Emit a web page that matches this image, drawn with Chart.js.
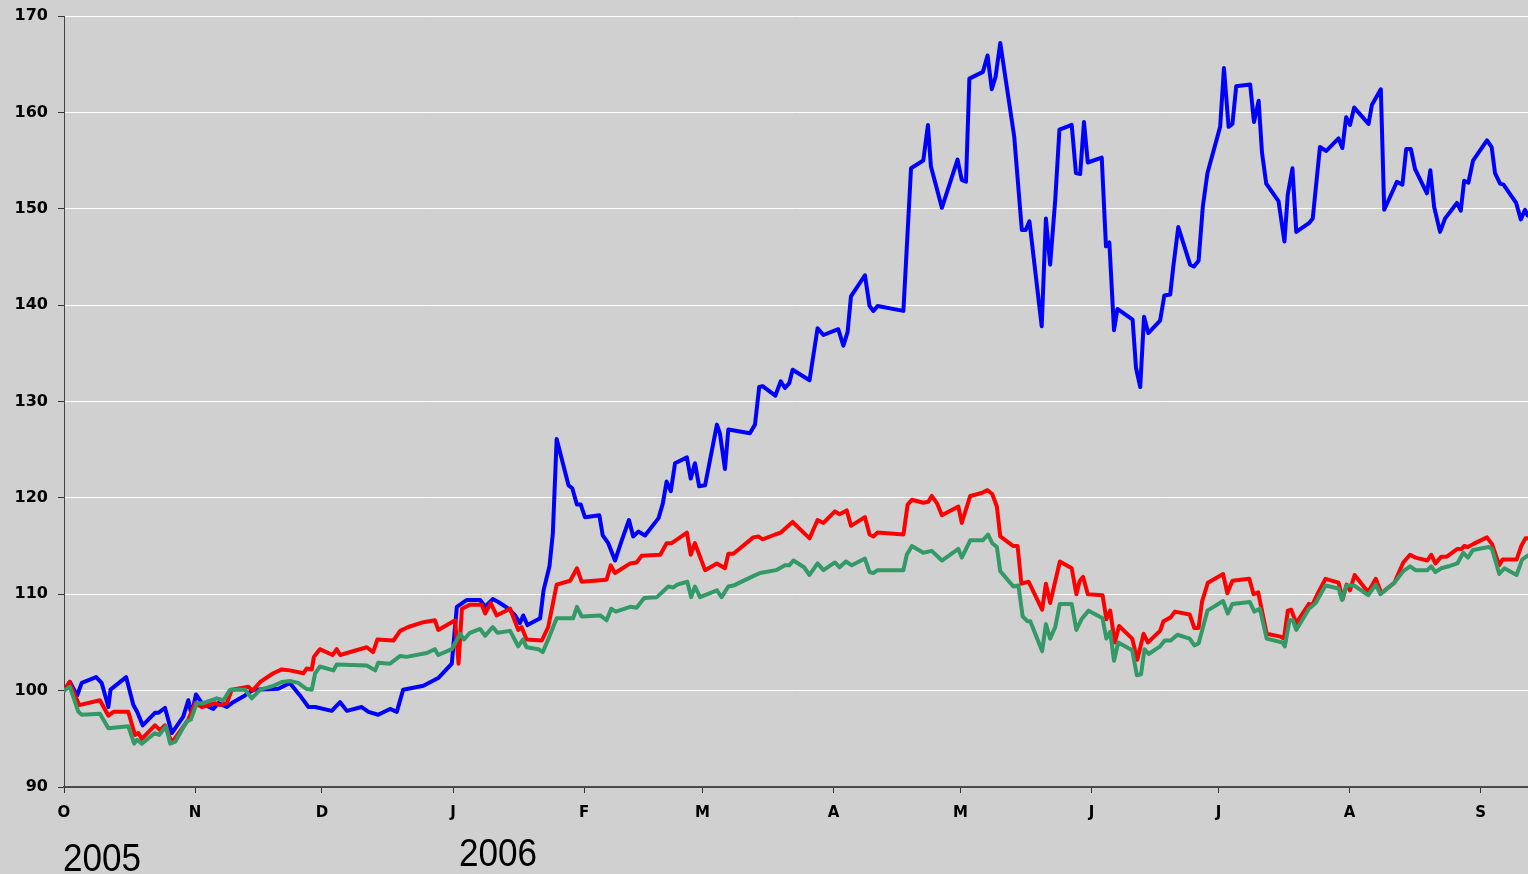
<!DOCTYPE html>
<html><head><meta charset="utf-8">
<script src="https://cdn.jsdelivr.net/npm/chart.js@4/dist/chart.umd.min.js"></script>
<style>html,body{margin:0;padding:0;background:#d0d0d0;overflow:hidden}#wrap{position:relative;width:1528px;height:874px}</style>
</head><body><div id="wrap"><canvas id="c" width="1528" height="874"></canvas></div>
<script>
// Days counted from 1 Oct 2005
const monthDays=[0,31,61,92,123,151,182,212,243,273,304,335];
const monthLabels=['O','N','D','J','F','M','A','M','J','J','A','S'];
const yearLabels=['2005','2006'];
const yearDays=[0,92];
const yTicks=[90,100,110,120,130,140,150,160,170];

const blueDays=[0,1.4,3.1,4.2,7.6,8.9,10.5,11.0,14.7,16.4,
17.3,18.6,21.5,22.3,23.9,25.5,28.2,29.4,30.2,31.2,
32.6,35.3,36.5,38.5,40.0,42.8,44.8,50.7,53.4,55.8,
57.8,59.4,63.3,65.3,66.9,70.4,72.0,74.3,77.1,78.7,
80.2,85.0,88.5,91.7,92.9,95.2,98.4,99.6,101.4,102.7,
105.1,106.7,107.8,108.6,109.6,112.6,113.4,114.8,115.6,116.5,
119.3,120.2,121.3,122.2,123.2,126.6,127.4,128.7,130.3,131.9,
133.6,134.6,135.8,137.4,140.6,141.6,142.5,143.5,144.5,147.3,
148.2,149.2,150.2,151.6,154.4,155.1,156.3,157.1,162.2,163.4,
164.4,165.2,168.2,169.5,170.5,171.5,172.3,176.3,178.2,179.6,
183.1,184.3,185.3,186.1,189.4,190.5,191.4,192.4,198.5,200.3,
203.2,204.3,205.0,207.6,211.3,212.3,213.3,214.1,217.3,218.4,
219.4,220.3,221.4,224.7,226.5,227.4,228.3,231.2,232.2,233.2,
234.4,235.4,238.3,239.3,240.3,241.2,242.1,245.4,246.4,247.2,
248.3,249.1,252.7,253.5,254.5,255.4,256.4,259.2,260.2,261.6,
262.3,263.5,266.3,267.2,268.3,269.3,270.4,273.4,274.3,275.4,
276.3,277.2,280.5,281.4,282.5,283.3,284.3,287.2,288.6,289.4,
290.5,291.4,294.4,295.3,297.0,298.5,301.4,302.3,303.2,304.1,
305.1,308.5,309.3,311.4,312.2,315.2,316.5,317.4,318.5,319.5,
322.3,323.1,324.0,325.4,326.6,329.4,330.3,331.1,332.1,333.2,
336.5,337.6,338.4,339.6,340.4,343.4,344.5,345.5,346.1];
const blueVals=[100,100.9,99.5,100.8,101.4,100.8,98.3,100.1,101.4,98.5,
97.8,96.4,97.7,97.7,98.2,95.6,97.3,99.0,97.5,99.6,
98.7,98.1,98.7,98.3,98.8,99.5,100.1,100.2,100.8,99.5,
98.3,98.3,97.9,98.8,97.9,98.3,97.8,97.5,98.1,97.8,
100.1,100.5,101.3,102.8,108.7,109.4,109.4,108.7,109.5,109.2,
108.5,107.8,107.0,107.8,106.8,107.5,110.4,112.9,116.3,126.1,
121.3,121.0,119.3,119.3,118.0,118.2,116.1,115.3,113.5,115.6,
117.7,116.0,116.5,116.1,117.9,119.4,121.7,120.7,123.6,124.2,
122.0,123.6,121.2,121.3,127.6,126.7,123.0,127.1,126.7,127.6,
131.5,131.6,130.6,132.1,131.4,131.9,133.3,132.2,137.6,136.9,
137.5,135.8,137.2,140.9,143.1,139.9,139.4,139.9,139.4,154.2,
155.0,158.7,154.4,150.1,155.1,153.0,152.8,163.5,164.2,165.9,
162.4,163.7,167.2,157.5,147.8,147.8,148.7,137.8,149.0,144.2,
150.9,158.2,158.7,153.7,153.6,159.0,154.8,155.3,146.1,146.5,
137.4,139.6,138.5,133.5,131.5,138.8,137.1,138.4,141.0,141.1,
143.9,148.1,144.2,144.0,144.6,150.2,153.7,158.5,164.6,158.5,
158.8,162.7,162.9,159.0,161.2,155.8,152.6,150.8,146.6,151.5,
154.2,147.6,148.5,149.0,156.4,156.0,157.3,156.3,159.5,158.7,
160.5,158.8,160.8,162.4,149.9,152.8,152.5,156.2,156.2,154.1,
151.6,154.0,150.2,147.6,149.0,150.6,149.8,152.9,152.7,155.0,
157.1,156.4,153.7,152.6,152.5,150.6,148.9,149.9,149.3];

const redDays=[0,1.3,2.2,3.6,8.5,10.5,11.7,15.2,16.8,17.6,
18.4,21.5,22.7,23.9,25.5,29.4,31.0,32.6,35.7,36.9,
38.5,39.7,43.6,44.6,46.4,49.5,51.5,53.4,56.6,57.4,
58.6,59.1,60.5,63.5,64.5,65.3,66.9,71.6,73.1,74.1,
77.9,79.5,81.4,85.0,87.7,88.5,92.5,93.3,94.1,95.9,
98.8,99.6,100.9,102.3,105.5,107.4,108.2,109.4,113.0,114.5,
116.5,119.7,121.3,122.4,128.3,129.3,130.3,133.9,135.4,136.6,
141.0,142.5,143.7,147.3,148.2,149.2,151.6,154.4,156.3,157.1,
158.3,163.0,164.2,165.2,168.2,169.5,172.3,176.3,178.2,179.6,
182.3,183.4,185.1,186.1,189.4,190.5,191.4,192.4,198.5,199.5,
200.5,203.2,204.4,205.2,206.5,207.6,211.5,212.3,214.3,217.0,
218.4,219.5,220.6,221.4,224.5,225.5,226.4,228.1,231.3,232.2,
233.2,235.5,238.3,239.4,240.2,241.0,242.1,245.6,246.5,247.4,
248.5,249.5,252.6,253.8,255.3,256.3,259.2,260.0,261.7,262.7,
266.2,267.3,268.3,269.1,270.5,274.1,275.1,276.3,280.3,281.3,
282.4,284.4,287.7,288.5,289.4,290.2,291.4,294.4,295.2,296.4,
298.3,301.4,302.4,303.3,304.1,305.2,308.4,310.2,311.5,314.6,
316.7,318.3,319.6,322.4,323.3,324.3,325.7,327.0,329.5,330.5,
331.1,332.0,333.2,336.5,337.7,339.4,340.2,343.5,344.6,345.6,
346.1];
const redVals=[100,100.9,99.9,98.5,99.0,97.4,97.8,97.8,95.4,95.6,
95.0,96.4,95.9,96.4,94.6,97.0,98.7,98.3,98.7,98.5,
98.7,100.1,100.4,100.0,100.9,101.8,102.2,102.1,101.8,102.3,
102.2,103.5,104.3,103.7,104.3,103.7,103.9,104.5,104.0,105.3,
105.2,106.2,106.6,107.1,107.3,106.3,107.3,102.8,108.5,108.9,
108.9,108.0,109.1,107.8,108.5,106.3,106.6,105.3,105.2,106.6,
111.0,111.4,112.7,111.3,111.5,113.0,112.2,113.2,113.3,114.0,
114.1,115.3,115.3,116.4,114.1,115.3,112.5,113.2,112.7,114.2,
114.2,115.9,116.0,115.7,116.2,116.4,117.5,115.8,117.7,117.4,
118.6,118.3,118.7,117.1,118.0,116.2,116.0,116.4,116.2,119.3,
119.8,119.5,119.6,120.2,119.4,118.2,119.1,117.4,120.2,120.5,
120.8,120.4,119.1,116.0,115.0,115.0,111.1,111.3,108.4,111.1,
109.1,113.4,112.7,110.0,111.4,111.8,110.0,109.9,107.4,108.3,
105.0,106.7,105.4,103.2,105.9,105.0,106.2,107.2,107.6,108.2,
107.9,106.5,106.5,109.2,111.2,112.1,110.1,111.4,111.6,110.0,
110.2,105.9,105.6,105.4,108.3,108.4,107.0,109.0,108.9,110.0,
111.6,111.2,109.5,111.0,110.4,112.0,110.2,111.6,110.1,111.2,
113.3,114.1,113.8,113.5,114.1,113.2,113.9,113.9,114.7,114.7,
115.0,114.9,115.2,115.9,115.2,113.0,113.6,113.6,115.0,115.8,
115.8];

const greenDays=[0,1.4,3.4,4.2,8.5,10.5,15.2,16.6,17.3,18.4,
21.5,22.5,24.1,25.1,26.3,29.0,30.0,31.4,32.9,36.1,
37.7,39.3,42.8,44.4,46.4,49.5,51.5,53.4,55.4,57.2,
58.6,59.4,60.5,63.7,64.5,71.6,73.6,74.3,77.1,79.5,
81.0,85.8,87.7,88.5,91.7,93.7,94.6,96.0,98.4,99.6,
101.4,102.5,105.5,107.4,108.5,109.4,112.2,113.2,114.5,116.5,
120.4,121.3,122.4,126.8,128.3,129.4,130.5,133.9,135.4,137.2,
140.2,142.9,144.1,145.0,147.4,148.3,149.2,150.4,154.4,155.5,
157.1,158.3,162.6,164.6,168.4,170.5,171.5,172.5,175.0,176.3,
178.2,179.6,182.3,183.4,184.9,186.3,189.4,190.5,191.4,192.4,
198.5,199.3,200.5,203.2,205.2,207.6,211.5,212.3,214.3,217.3,
218.5,219.5,220.6,221.4,224.5,225.7,226.7,227.8,228.5,231.3,
232.2,233.2,234.4,235.5,238.3,239.4,240.6,242.3,245.6,246.5,
247.4,248.3,249.3,252.6,253.7,254.7,255.5,256.5,259.2,260.3,
261.7,263.3,266.2,267.3,268.3,270.4,274.1,275.2,276.3,280.4,
281.5,282.8,284.4,288.1,288.7,289.8,290.6,291.4,294.4,296.0,
298.3,301.4,302.2,303.3,305.1,308.4,310.2,311.3,314.6,316.7,
318.3,319.6,322.4,323.3,324.3,325.7,327.4,329.5,330.9,332.0,
333.2,336.9,337.7,339.4,340.6,343.5,344.8,346.1];
const greenVals=[100,100.4,97.8,97.5,97.6,96.1,96.3,94.5,94.9,94.5,
95.6,95.4,96.3,94.5,94.7,96.8,97.0,98.7,98.7,99.2,
99.0,100.1,100.1,99.2,100.1,100.5,100.9,101.0,100.8,100.2,
100.1,101.8,102.5,102.1,102.7,102.6,102.1,102.9,102.8,103.6,
103.5,103.9,104.3,103.7,104.3,105.9,105.3,106.0,106.4,105.7,
106.6,106.0,106.2,104.6,105.3,104.5,104.3,104.0,105.3,107.5,
107.5,108.7,107.7,107.8,107.3,108.5,108.2,108.7,108.6,109.6,
109.7,110.8,110.7,111.0,111.3,109.7,110.8,109.7,110.4,109.7,
110.8,110.9,111.8,112.2,112.5,113.0,113.0,113.5,112.8,112.0,
113.2,112.5,113.3,112.8,113.4,113.0,113.7,112.3,112.2,112.5,
112.5,114.1,115.0,114.3,114.5,113.5,114.7,113.8,115.6,115.6,
116.2,115.3,114.9,112.4,110.8,110.9,107.7,107.2,107.2,104.1,
106.9,105.4,106.6,109.0,109.0,106.3,107.4,108.3,107.5,105.4,
106.1,103.1,105.0,104.2,101.6,101.7,104.3,103.8,104.6,105.2,
105.2,105.8,105.4,104.7,104.9,108.3,109.3,108.0,109.0,109.2,
108.2,108.5,105.4,105.0,104.6,107.3,107.3,106.3,108.5,109.1,
110.9,110.6,109.4,110.9,110.9,109.9,111.0,110.0,111.2,112.4,
112.9,112.5,112.5,112.9,112.3,112.7,112.9,113.2,114.3,113.8,
114.6,114.9,114.7,112.1,112.7,112.0,113.6,114.0];

function pts(d,v){const n=Math.min(d.length,v.length);const o=[];for(let i=0;i<n;i++)o.push({x:d[i],y:v[i]});return o;}

const bgPlugin={id:'bg',beforeDraw(c){const x=c.ctx;x.save();x.fillStyle='#d0d0d0';x.fillRect(0,0,c.width,c.height);x.restore();}};
const yearPlugin={id:'years',afterDraw(c){
  const ctx=c.ctx,xs=c.scales.x;
  const offs=[[-1,871],[6,866]];
  ctx.save();ctx.fillStyle='#000';ctx.font='39px "Liberation Sans", Arial, sans-serif';ctx.textBaseline='alphabetic';ctx.textAlign='left';
  yearLabels.forEach((t,i)=>{const px=xs.getPixelForValue(yearDays[i])+offs[i][0];ctx.save();ctx.translate(px,offs[i][1]);ctx.scale(0.9,1);ctx.fillText(t,0,0);ctx.restore();});
  ctx.restore();}};

const lineBase={fill:false,pointRadius:0,borderWidth:4,tension:0,borderJoinStyle:'round',borderCapStyle:'round'};
new Chart(document.getElementById('c'),{
  type:'line',
  data:{datasets:[
    Object.assign({label:'green',data:pts(greenDays,greenVals),borderColor:'#339966'},lineBase),
    Object.assign({label:'red',data:pts(redDays,redVals),borderColor:'#ff0000'},lineBase),
    Object.assign({label:'blue',data:pts(blueDays,blueVals),borderColor:'#0000ff'},lineBase)
  ]},
  options:{
    responsive:false,animation:false,devicePixelRatio:1,
    layout:{padding:{top:16,right:0,bottom:0,left:0}},
    plugins:{legend:{display:false},tooltip:{enabled:false}},
    scales:{
      x:{type:'linear',min:0,max:346.2,
        afterBuildTicks:s=>{s.ticks=monthDays.map(v=>({value:v}));},
        afterFit:s=>{s.height=87;s.paddingLeft=0;s.paddingRight=0;},
        grid:{drawOnChartArea:false,drawTicks:true,tickLength:6,tickColor:'#333',tickWidth:1},
        border:{color:'#4a4a4a',width:2},
        ticks:{autoSkip:false,maxRotation:0,padding:11,color:'#000',font:{family:'"DejaVu Sans", Verdana, sans-serif',size:15,weight:'bold'},callback:(v,i)=>monthLabels[i]}},
      y:{type:'linear',min:90,max:170,
        afterBuildTicks:s=>{s.ticks=yTicks.map(v=>({value:v}));},
        afterFit:s=>{s.width=64;s.paddingTop=0;s.paddingBottom=0;},
        grid:{color:c=>(c.tick&&c.tick.value===90)?'rgba(0,0,0,0)':'#ffffff',lineWidth:1,tickColor:'#333',tickLength:6},
        border:{color:'#444',width:1},
        ticks:{padding:10,color:'#000',font:{family:'"DejaVu Sans", Verdana, sans-serif',size:16,weight:'bold'}}}
    }
  },
  plugins:[bgPlugin,yearPlugin]
});
</script></body></html>
